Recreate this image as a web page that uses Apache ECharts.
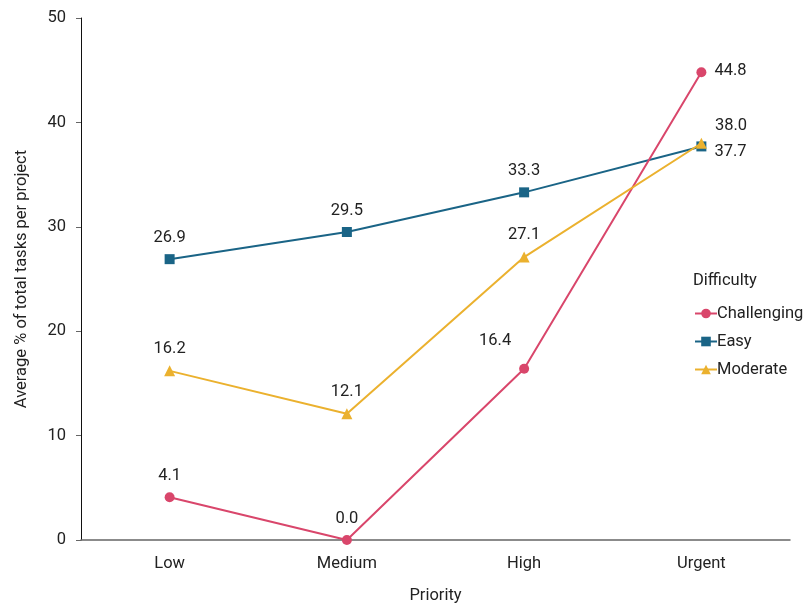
<!DOCTYPE html>
<html>
<head>
<meta charset="utf-8">
<script src="https://cdn.jsdelivr.net/npm/echarts@6/dist/echarts.min.js"></script>
<style>
  html, body { margin: 0; padding: 0; background: #fff; }
  #chart { width: 809px; height: 606px; }
</style>
</head>
<body>
<div id="chart"></div>
<script>
// Task share by priority and difficulty
const priorities = ['Low', 'Medium', 'High', 'Urgent'];
const challenging = [4.1, 0.0, 16.4, 44.8];
const easy = [26.9, 29.5, 33.3, 37.7];
const moderate = [16.2, 12.1, 27.1, 38.0];
const yTicks = [0, 10, 20, 30, 40, 50];

const FONT = 'Roboto';
const TEXT = '#222';
const FS = 16.5;

// per-point label placement so labels don't collide near the crossing lines
function withLabels(values, placements) {
  return values.map((v, i) => {
    const p = placements[i] || {};
    return {
      value: v,
      label: Object.assign({ position: 'top', distance: 8 }, p)
    };
  });
}

const chart = echarts.init(document.getElementById('chart'));
chart.setOption({
  backgroundColor: '#fff',
  animation: false,
  textStyle: { fontFamily: FONT },
  grid: { left: 81, right: 19, top: 18, bottom: 66, containLabel: false, outerBoundsMode: 'none' },
  title: {
    text: 'Difficulty',
    left: 688, top: 267,
    textStyle: { fontFamily: FONT, fontSize: FS, fontWeight: 'normal', color: TEXT }
  },
  legend: {
    orient: 'vertical',
    left: 689, top: 300,
    itemWidth: 22, itemHeight: 12, itemGap: 11,
    textStyle: { fontFamily: FONT, fontSize: FS, color: TEXT, padding: [0, 0, 0, -5] },
    data: ['Challenging', 'Easy', 'Moderate']
  },
  xAxis: {
    type: 'category',
    data: priorities,
    boundaryGap: true,
    name: 'Priority',
    nameLocation: 'middle',
    nameGap: 47,
    nameTextStyle: { fontFamily: FONT, fontSize: FS, color: TEXT },
    axisLine: { lineStyle: { color: '#666', width: 1.5 } },
    axisTick: { show: false },
    axisLabel: { fontFamily: FONT, fontSize: FS, color: TEXT, margin: 15 }
  },
  yAxis: {
    type: 'value',
    min: yTicks[0], max: yTicks[yTicks.length - 1], interval: 10,
    name: 'Average % of total tasks per project',
    nameLocation: 'middle',
    nameGap: 51,
    nameTextStyle: { fontFamily: FONT, fontSize: FS, color: TEXT },
    axisLine: { show: true, lineStyle: { color: '#111', width: 1 } },
    axisTick: { show: true, length: 5, lineStyle: { color: '#666' } },
    splitLine: { show: false },
    axisLabel: { fontFamily: FONT, fontSize: FS, color: TEXT, margin: 15 }
  },
  series: [
    {
      name: 'Challenging', type: 'line',
      symbol: 'circle', symbolSize: 10,
      itemStyle: { color: '#d9466b' },
      lineStyle: { color: '#d9466b', width: 2 },
      label: { show: true, fontFamily: FONT, fontSize: FS, color: TEXT, formatter: p => p.value.toFixed(1) },
      data: withLabels(challenging, [
        {}, {}, { position: 'top', offset: [-29, 0], distance: 14 },
        { position: 'right', offset: [0, -1], distance: 8 }
      ]),
      z: 3
    },
    {
      name: 'Easy', type: 'line',
      symbol: 'rect', symbolSize: 10,
      itemStyle: { color: '#1a6486' },
      lineStyle: { color: '#1a6486', width: 2 },
      label: { show: true, fontFamily: FONT, fontSize: FS, color: TEXT, formatter: p => p.value.toFixed(1) },
      data: withLabels(easy, [
        {}, {}, {}, { position: 'right', offset: [0, 5], distance: 8 }
      ]),
      z: 2
    },
    {
      name: 'Moderate', type: 'line',
      symbol: 'triangle', symbolSize: 11,
      itemStyle: { color: '#ebb12e' },
      lineStyle: { color: '#ebb12e', width: 2 },
      label: { show: true, fontFamily: FONT, fontSize: FS, color: TEXT, formatter: p => p.value.toFixed(1) },
      data: withLabels(moderate, [
        {}, {}, {}, { position: 'right', offset: [0, -17], distance: 8 }
      ]),
      z: 4
    }
  ]
});
</script>
</body>
</html>
